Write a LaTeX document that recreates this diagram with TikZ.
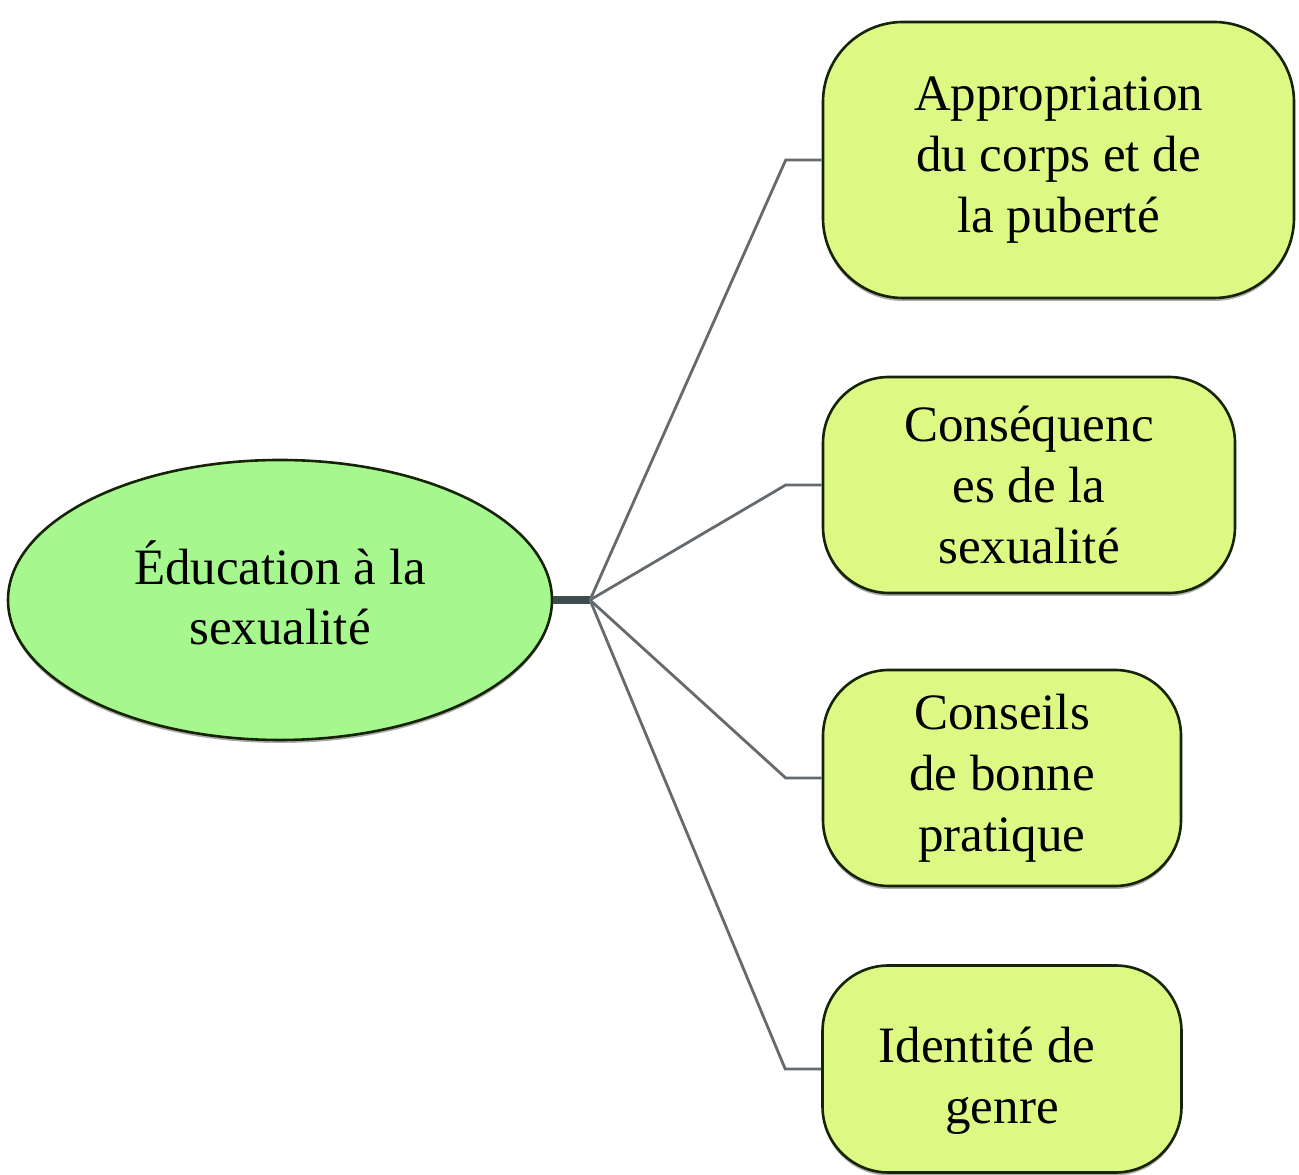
\documentclass[tikz,border=0pt]{standalone}
\usepackage{fontspec}
\setmainfont{Liberation Serif}
\usetikzlibrary{calc,shapes.geometric,shadows}
\definecolor{ellfill}{RGB}{166,248,142}
\definecolor{boxfill}{RGB}{222,248,132}
\definecolor{edgecol}{RGB}{22,36,6}
\definecolor{linkcol}{RGB}{100,106,110}
\definecolor{hubcol}{RGB}{62,76,80}
\tikzset{
  x=1pt,y=1pt,
  mainell/.style={ellipse, draw=edgecol, line width=2.6pt, fill=ellfill,
    minimum width=544pt, minimum height=280pt, inner sep=0pt, align=center,
    font=\fontsize{51}{60}\selectfont,
    drop shadow={shadow xshift=0pt, shadow yshift=-3pt, fill=black!55, opacity=0.6}},
  topicbox/.style={rectangle, draw=edgecol, line width=2.6pt, fill=boxfill,
    rounded corners=66pt, inner sep=0pt, align=center,
    font=\fontsize{51}{61}\selectfont,
    drop shadow={shadow xshift=0pt, shadow yshift=-3pt, fill=black!55, opacity=0.6}},
  link/.style={draw=linkcol, line width=2.8pt, line join=miter},
  hublink/.style={draw=hubcol, line width=8pt}
}
\begin{document}
\begin{tikzpicture}
\useasboundingbox[fill=white] (0,0) rectangle (1299,1175);

\node[mainell] (c) at (280,575) {Éducation à la\\sexualité\rule[-14pt]{0pt}{0pt}};

\node[topicbox, minimum width=471pt, minimum height=276pt, rounded corners=80pt] (b1) at (1058.5,1015) {Appropriation\\du corps et de\\la puberté};
\node[topicbox, minimum width=412pt, minimum height=216pt] (b2) at (1029,690) {Conséquenc\\es de la\\sexualité};
\node[topicbox, minimum width=358pt, minimum height=216pt] (b3) at (1002,397) {Conseils\\de bonne\\pratique};
\node[topicbox, minimum width=359pt, minimum height=207pt] (b4) at (1002,106) {\rule{0pt}{60pt}Identité de\hspace*{30pt}\\genre};

\coordinate (hub) at (590,575);
\draw[hublink] (c.east) -- (hub);

\foreach \b in {b1,b2,b3,b4}{
  \draw[link] (hub) -- ($(\b.west)+(-36,0)$) -- (\b.west);
}
\end{tikzpicture}
\end{document}
